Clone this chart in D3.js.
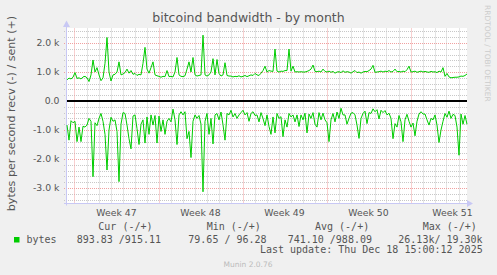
<!DOCTYPE html>
<html>
<head>
<meta charset="utf-8">
<script src="https://cdn.jsdelivr.net/npm/d3@7/dist/d3.min.js"></script>
<style>
	body { margin: 0; background: #f0f0f0; }
	svg { display: block; }
	text { font-family: "DejaVu Sans", sans-serif; fill: #555; }
	.mono { font-family: "DejaVu Sans Mono", monospace; font-size: 10px; fill: #555; }
</style>
</head>
<body>
<div id="chart"></div>
<script>
// bytes/s sent (+), one sample every 4 hours
const sent = [
	730, 790, 760, 820, 980, 780, 800, 760, 830, 850,
	800, 670, 900, 1414, 1000, 1150, 900, 700, 800, 1300,
	2190, 1000, 690, 900, 920, 1000, 1350, 900, 930, 980,
	1100, 960, 1050, 920, 950, 880, 920, 900, 1300, 1850,
	1100, 960, 1150, 1350, 900, 870, 850, 820, 850, 840,
	1050, 840, 850, 830, 1000, 1500, 900, 850, 840, 870,
	1100, 1350, 1000, 1500, 900, 860, 880, 900, 2270, 900,
	860, 900, 1000, 1460, 900, 1430, 950, 860, 900, 1320,
	880, 860, 860, 830, 850, 840, 870, 830, 850, 880,
	840, 870, 900, 880, 950, 900, 880, 960, 1050, 1200,
	1000, 1050, 1030, 1020, 1790, 1030, 1000, 1030, 1020, 1050,
	1050, 1790, 1030, 1200, 1000, 1010, 1000, 1010, 1000, 1000,
	1020, 1050, 1100, 1240, 1020, 1010, 1030, 1000, 1100, 1020,
	1000, 1030, 990, 1020, 960, 1000, 1010, 980, 1040, 990,
	1010, 1000, 960, 1010, 1050, 980, 1000, 960, 1000, 1020,
	1010, 1050, 1100, 1230, 990, 1000, 1010, 1030, 1000, 1030,
	1010, 1050, 1000, 1020, 1100, 1010, 1020, 1000, 1030, 1010,
	1080, 1200, 1000, 1010, 1030, 990, 1010, 1030, 1000, 1020,
	1000, 990, 1020, 1000, 1010, 980, 1030, 1000, 1150, 850,
	950, 830, 800, 810, 820, 820, 830, 860, 850, 880,
	930
];

// bytes/s received, drawn below zero (-)
const recv = [
	-830, -1350, -680, -750, -700, -1400, -900, -1400, -870, -900,
	-830, -600, -700, -2610, -750, -850, -600, -430, -700, -1150,
	-2380, -1000, -560, -700, -650, -1050, -2780, -800, -400, -430,
	-830, -1300, -1650, -520, -480, -950, -1500, -800, -650, -1450,
	-550, -1150, -480, -830, -500, -1450, -520, -1050, -650, -1150,
	-700, -600, -720, -280, -650, -1500, -480, -370, -480, -370,
	-1300, -1050, -1950, -700, -480, -600, -500, -800, -3130, -700,
	-430, -1150, -600, -1480, -480, -430, -650, -380, -820, -1350,
	-430, -480, -320, -550, -430, -600, -480, -400, -320, -480,
	-400, -700, -430, -370, -500, -480, -720, -400, -600, -850,
	-480, -880, -1150, -550, -1100, -430, -600, -540, -1230, -650,
	-900, -430, -550, -480, -720, -480, -880, -480, -650, -420,
	-1100, -450, -600, -400, -800, -900, -400, -650, -420, -650,
	-750, -1400, -650, -430, -720, -380, -600, -250, -480, -480,
	-800, -600, -420, -400, -480, -830, -1290, -600, -430, -350,
	-780, -400, -430, -270, -370, -300, -620, -320, -400, -330,
	-480, -420, -600, -1300, -780, -900, -500, -720, -1400, -650,
	-460, -700, -900, -760, -1200, -700, -450, -370, -450, -450,
	-650, -830, -600, -650, -480, -830, -1430, -1000, -700, -430,
	-560, -350, -600, -460, -500, -900, -1870, -450, -800, -500,
	-800
];

const yTicks = [-3000, -2000, -1000, 0, 1000, 2000];
const yTickLabels = ["-3.0 k", "-2.0 k", "-1.0 k", "0.0", "1.0 k", "2.0 k"];
const weekLabels = ["Week 47", "Week 48", "Week 49", "Week 50", "Week 51"];
const legendHeaders = ["Cur (-/+)", "Min (-/+)", "Avg (-/+)", "Max (-/+)"];
const legendValues = ["893.83 /915.11", "79.65 / 96.28", "741.10 /988.09", "26.13k/ 19.30k"];

const startTime = new Date(Date.UTC(2025, 10, 16, 9));
const stepHours = 4;
const spanHours = 800;

class MuninGraph {
	constructor(){
		this.width = 497;
		this.height = 275;
		this.plot = {left: 67, right: 467, top: 28.5, bottom: 202.5};
		this.initVis();
		this.renderVis();
	}

	initVis() {
		let vis = this;

		vis.svg = d3.select("#chart").append("svg")
			.attr("width", vis.width)
			.attr("height", vis.height);

		vis.svg.append("rect")
			.attr("width", vis.width)
			.attr("height", vis.height)
			.attr("fill", "#f0f0f0");

		vis.x = d3.scaleUtc()
			.domain([startTime, d3.utcHour.offset(startTime, spanHours)])
			.range([vis.plot.left, vis.plot.right]);
		vis.y = d3.scaleLinear()
			.domain([-3500, 2500])
			.range([vis.plot.bottom, vis.plot.top]);

		// white canvas
		vis.svg.append("rect")
			.attr("x", vis.plot.left)
			.attr("y", 28)
			.attr("width", vis.plot.right - vis.plot.left)
			.attr("height", 175)
			.attr("fill", "#ffffff");

		vis.grid = vis.svg.append("g").attr("class", "grid");
		vis.lines = vis.svg.append("g").attr("class", "lines");
		vis.labels = vis.svg.append("g").attr("class", "labels");
	}

	renderVis(){
		let vis = this;
		let snap = v => Math.round(v) + 0.5;
		let end = d3.utcHour.offset(startTime, spanHours);

		// minor horizontal grid every 200
		let minorY = d3.range(-3400, 2500, 200).filter(v => v % 1000 !== 0);
		vis.grid.selectAll(".hminor")
			.data(minorY)
			.enter().append("line")
			.attr("x1", vis.plot.left - 3).attr("x2", vis.plot.right)
			.attr("y1", d => snap(vis.y(d))).attr("y2", d => snap(vis.y(d)))
			.attr("stroke", "#c8c8c8").attr("stroke-dasharray", "1,1");

		// minor vertical grid every day
		let days = d3.utcDay.range(startTime, end).filter(d => d.getUTCDay() !== 1);
		vis.grid.selectAll(".vminor")
			.data(days)
			.enter().append("line")
			.attr("x1", d => snap(vis.x(d))).attr("x2", d => snap(vis.x(d)))
			.attr("y1", vis.plot.top).attr("y2", vis.plot.bottom + 2)
			.attr("stroke", "#c8c8c8").attr("stroke-dasharray", "1,1");

		// major grid
		vis.grid.selectAll(".hmajor")
			.data(yTicks.filter(v => v !== 0))
			.enter().append("line")
			.attr("x1", vis.plot.left - 3).attr("x2", vis.plot.right)
			.attr("y1", d => snap(vis.y(d))).attr("y2", d => snap(vis.y(d)))
			.attr("stroke", "#f0a0a0").attr("stroke-dasharray", "1,1");

		let weeks = d3.utcMonday.range(startTime, end);
		vis.grid.selectAll(".vmajor")
			.data(weeks)
			.enter().append("line")
			.attr("x1", d => snap(vis.x(d))).attr("x2", d => snap(vis.x(d)))
			.attr("y1", vis.plot.top).attr("y2", vis.plot.bottom + 2)
			.attr("stroke", "#f0a0a0").attr("stroke-dasharray", "1,1");

		// axes with arrows
		let axisColor = "#c8c8f4";
		vis.grid.append("line")
			.attr("x1", vis.plot.left - 0.5).attr("x2", vis.plot.left - 0.5)
			.attr("y1", 24).attr("y2", vis.plot.bottom + 3)
			.attr("stroke", axisColor);
		vis.grid.append("path")
			.attr("d", `M${vis.plot.left - 0.5},20.5 L${vis.plot.left + 3},27 L${vis.plot.left - 4},27 Z`)
			.attr("fill", axisColor);
		vis.grid.append("line")
			.attr("x1", vis.plot.left - 3).attr("x2", vis.plot.right + 3)
			.attr("y1", snap(vis.plot.bottom)).attr("y2", snap(vis.plot.bottom))
			.attr("stroke", axisColor);
		vis.grid.append("path")
			.attr("d", `M${vis.plot.right + 6},${snap(vis.plot.bottom)} L${vis.plot.right},${snap(vis.plot.bottom) - 3.5} L${vis.plot.right},${snap(vis.plot.bottom) + 3.5} Z`)
			.attr("fill", axisColor);

		// series lines
		let line = d3.line()
			.x((d, i) => vis.x(d3.utcHour.offset(startTime, i * stepHours)))
			.y(d => vis.y(d));

		[sent, recv].forEach(series => {
			vis.lines.append("path")
				.datum(series)
				.attr("d", line)
				.attr("fill", "none")
				.attr("stroke", "#00cc00")
				.attr("stroke-width", 1)
				.attr("stroke-linejoin", "round");
		});

		// zero rule
		vis.lines.append("line")
			.attr("x1", vis.plot.left).attr("x2", vis.plot.right)
			.attr("y1", vis.y(0)).attr("y2", vis.y(0))
			.attr("stroke", "#000").attr("stroke-width", 2);

		// y tick labels
		vis.labels.selectAll(".ytick")
			.data(yTicks)
			.enter().append("text")
			.attr("x", 59.5)
			.attr("y", d => vis.y(d) + 3.4)
			.attr("text-anchor", "end")
			.style("font-size", "9.3px")
			.text((d, i) => yTickLabels[i]);

		// week labels centred in each week
		vis.labels.selectAll(".xtick")
			.data(weeks)
			.enter().append("text")
			.attr("x", d => vis.x(d3.utcHour.offset(d, 84)))
			.attr("y", 216)
			.attr("text-anchor", "middle")
			.style("font-size", "9.3px")
			.text((d, i) => weekLabels[i]);

		// title and axis label
		vis.labels.append("text")
			.attr("x", 248.5).attr("y", 22)
			.attr("text-anchor", "middle")
			.style("font-size", "12.5px")
			.text("bitcoind bandwidth - by month");

		vis.labels.append("text")
			.attr("transform", "translate(14.5, 113.5) rotate(-90)")
			.attr("text-anchor", "middle")
			.style("font-size", "11.1px")
			.text("bytes per second recv (-) / sent (+)");

		vis.labels.append("text")
			.attr("transform", "translate(485, 5) rotate(90)")
			.style("font-size", "7.5px")
			.style("fill", "#cccccc")
			.text("RRDTOOL / TOBI OETIKER");

		// legend
		let headerX = [98.3, 206.7, 315, 422.7];
		let valueX = [76.7, 188.3, 287.7, 398.3];
		vis.labels.selectAll(".lhead")
			.data(legendHeaders)
			.enter().append("text")
			.attr("class", "mono")
			.attr("x", (d, i) => headerX[i]).attr("y", 230)
			.text(d => d);

		vis.labels.append("rect")
			.attr("x", 14).attr("y", 237)
			.attr("width", 5.5).attr("height", 5.5)
			.attr("fill", "#00cc00");
		vis.labels.append("text")
			.attr("class", "mono")
			.attr("x", 26.5).attr("y", 242.7)
			.text("bytes");

		vis.labels.selectAll(".lval")
			.data(legendValues)
			.enter().append("text")
			.attr("class", "mono")
			.attr("x", (d, i) => valueX[i]).attr("y", 242.7)
			.text(d => d);

		vis.labels.append("text")
			.attr("class", "mono")
			.attr("x", 482.7).attr("y", 253)
			.attr("text-anchor", "end")
			.text("Last update: Thu Dec 18 15:00:12 2025");

		vis.labels.append("text")
			.attr("x", 248).attr("y", 267)
			.attr("text-anchor", "middle")
			.style("font-size", "7.5px")
			.style("fill", "#bbbbbb")
			.text("Munin 2.0.76");
	}
}

new MuninGraph();
</script>
</body>
</html>
